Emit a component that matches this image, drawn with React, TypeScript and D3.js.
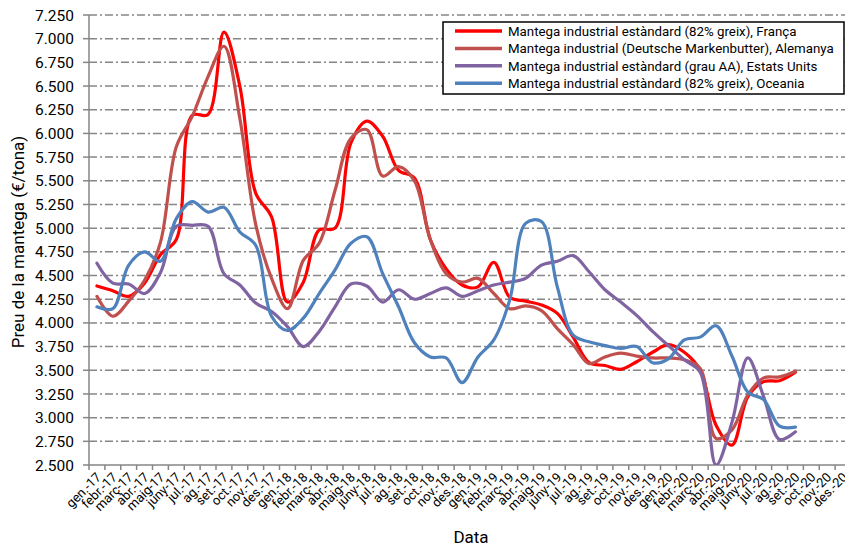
import React from 'react';
import * as d3 from 'd3';

const mesos = ["gen.", "febr.", "març", "abr.", "maig", "juny", "jul.", "ag.", "set.", "oct.", "nov.", "des."];
const anys = ["17", "18", "19", "20"];
const categories = anys.flatMap(a => mesos.map(m => `${m}-${a}`));

const yTicks = d3.range(2500, 7251, 250);

// €/tona, gen.-17 .. set.-20
const franca = [4390, 4340, 4280, 4420, 4720, 4880, 6190, 6200, 7070, 6500, 5370, 5120,
    4220, 4430, 4980, 5000, 5900, 6130, 5970, 5610, 5530, 4880, 4570, 4400,
    4380, 4640, 4270, 4230, 4190, 4100, 3850, 3580, 3550, 3510, 3590, 3690,
    3770, 3690, 3500, 2920, 2710, 3220, 3380, 3390, 3480];
const alemanya = [4280, 4070, 4230, 4450, 4850, 5860, 6180, 6600, 6920, 6160, 5040, 4470,
    4150, 4660, 4840, 5400, 5950, 6040, 5550, 5650, 5500, 4880, 4520, 4430,
    4470, 4310, 4150, 4180, 4130, 3940, 3770, 3570, 3640, 3680, 3650, 3630,
    3630, 3610, 3520, 2780, 2870, 3240, 3420, 3430, 3490];
const estatsUnits = [4630, 4420, 4410, 4310, 4530, 5020, 5030, 5020, 4520, 4400, 4210, 4120,
    3960, 3750, 3910, 4170, 4410, 4390, 4220, 4350, 4250, 4310, 4370, 4280,
    4340, 4400, 4430, 4470, 4610, 4650, 4710, 4540, 4350, 4220, 4080, 3910,
    3760, 3610, 3480, 2500, 2950, 3630, 3220, 2770, 2850];
const oceania = [4170, 4150, 4610, 4750, 4650, 5100, 5280, 5170, 5220, 4960, 4820, 4070,
    3920, 4050, 4310, 4560, 4840, 4910, 4520, 4170, 3790, 3640, 3630, 3370,
    3640, 3820, 4240, 5050, 5070, 4380, 3870, 3800, 3760, 3730, 3750, 3580,
    3620, 3820, 3850, 3970, 3650, 3270, 3190, 2910, 2900];

const series = [
    { name: "Mantega industrial estàndard (82% greix), França", color: "#FF0000", values: franca },
    { name: "Mantega industrial (Deutsche Markenbutter), Alemanya", color: "#C0504D", values: alemanya },
    { name: "Mantega industrial estàndard (grau AA), Estats Units", color: "#8064A2", values: estatsUnits },
    { name: "Mantega industrial estàndard (82% greix), Oceania", color: "#4F81BD", values: oceania },
];

const width = 845;
const height = 547;
const margin = { top: 15, left: 89, bottom: 82 };
const plotRight = 851;
const font = "Roboto, 'Open Sans', sans-serif";

const catalan = d3.formatLocale({ decimal: ",", thousands: ".", grouping: [3], currency: ["", "€"] });
const fmt = catalan.format(",.0f");

export default function App() {
    const x = d3.scaleBand().domain(categories).range([margin.left, plotRight]);
    const y = d3.scaleLinear().domain([2500, 7250]).range([height - margin.bottom, margin.top]);
    const bw = x.bandwidth();
    const cx = (i: number) => (x(categories[i]) as number) + bw / 2;

    const line = d3.line<number>()
        .x((_, i) => cx(i))
        .y(d => y(d))
        .curve(d3.curveCatmullRom.alpha(0.5));

    const y0 = y(2500);
    const grid = "#868686";

    return (
        <svg width={width} height={height} style={{ position: "absolute", left: 0, top: 0, background: "#fff" }}
            fontFamily={font}>
            <defs>
                <clipPath id="plot">
                    <rect x={margin.left} y={margin.top - 5} width={plotRight - margin.left} height={y0 - margin.top + 5} />
                </clipPath>
            </defs>
            {/* gridlines */}
            {yTicks.filter(t => t > 2500).map(t => (
                <line key={t} x1={margin.left} x2={plotRight} y1={y(t)} y2={y(t)}
                    stroke={grid} strokeWidth={1.5} strokeDasharray="8,3,2,3" />
            ))}
            {/* y axis */}
            <line x1={margin.left} x2={margin.left} y1={margin.top} y2={y0} stroke={grid} strokeWidth={1.5} />
            {yTicks.map(t => (
                <g key={t}>
                    <line x1={margin.left - 6} x2={margin.left} y1={y(t)} y2={y(t)} stroke={grid} strokeWidth={1.5} />
                    <text x={margin.left - 15} y={y(t)} dy="0.36em" textAnchor="end" fontSize={15.5} fill="#000">{fmt(t)}</text>
                </g>
            ))}
            {/* x axis */}
            <line x1={margin.left} x2={plotRight} y1={y0} y2={y0} stroke={grid} strokeWidth={1.5} />
            {categories.map((c, i) => (
                <g key={c}>
                    <line x1={x(c) as number} x2={x(c) as number} y1={y0} y2={y0 + 5} stroke={grid} strokeWidth={1.5} />
                    <text transform={`translate(${cx(i) + 5},${y0 + 13}) rotate(-45)`} textAnchor="end"
                        fontSize={13} fill="#000">{c}</text>
                </g>
            ))}
            {/* series */}
            <g clipPath="url(#plot)">
                {series.map(s => (
                    <path key={s.name} d={line(s.values) ?? ""} fill="none" stroke={s.color} strokeWidth={3.2}
                        strokeLinejoin="round" strokeLinecap="round" />
                ))}
            </g>
            {/* legend */}
            <g>
                <rect x={443} y={22} width={401} height={72} fill="#fff" stroke="#000" strokeWidth={1.5} />
                {series.map((s, i) => (
                    <g key={s.name} transform={`translate(0,${31 + i * 17.4})`}>
                        <line x1={455} x2={502} y1={0} y2={0} stroke={s.color} strokeWidth={3.5} />
                        <text x={508} y={0} dy="0.36em" fontSize={13.3} fill="#000">{s.name}</text>
                    </g>
                ))}
            </g>
            {/* titles */}
            <text transform={`translate(24,${242}) rotate(-90)`} textAnchor="middle" fontSize={17} fill="#000">
                Preu de la mantega (€/tona)
            </text>
            <text x={471} y={543} textAnchor="middle" fontSize={17} fill="#000">Data</text>
        </svg>
    );
}
